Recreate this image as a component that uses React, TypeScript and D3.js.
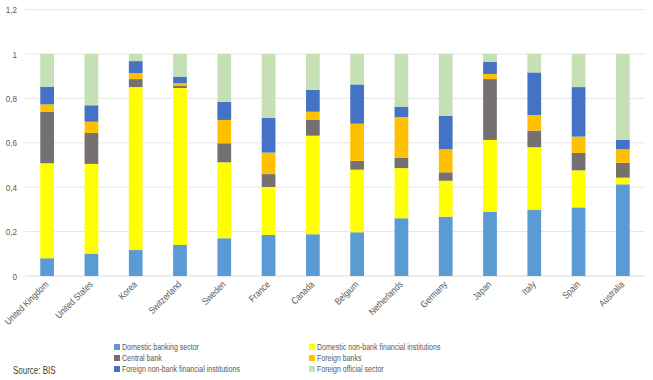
import React from "react";
import * as d3 from "d3";

const categories = ["United Kingdom","United States","Korea","Switzerland","Sweden","France","Canada","Belgium","Netherlands","Germany","Japan","Italy","Spain","Australia"];
const seriesNames = ["Domestic banking sector","Domestic non-bank financial institutions","Central bank","Foreign banks","Foreign non-bank financial institutions","Foreign official sector"];
const seriesColors = ["#5B9BD5","#FFFF00","#767171","#FFC000","#4472C4","#C5E0B4"];
const domesticBanking = [0.08,0.101,0.117,0.14,0.17,0.185,0.188,0.197,0.26,0.267,0.29,0.299,0.309,0.413];
const domesticNonBank = [0.428,0.404,0.734,0.707,0.342,0.216,0.444,0.282,0.226,0.162,0.323,0.281,0.167,0.03];
const centralBank = [0.231,0.139,0.036,0.009,0.086,0.058,0.071,0.04,0.047,0.038,0.274,0.075,0.078,0.067];
const foreignBanks = [0.034,0.051,0.027,0.012,0.105,0.097,0.037,0.167,0.183,0.104,0.023,0.07,0.074,0.061];
const foreignNonBank = [0.08,0.074,0.054,0.03,0.081,0.156,0.098,0.177,0.047,0.151,0.054,0.192,0.223,0.042];
const foreignOfficial = [0.147,0.231,0.032,0.102,0.216,0.288,0.162,0.137,0.237,0.278,0.036,0.083,0.149,0.387];
const yTicks = [0,0.2,0.4,0.6,0.8,1,1.2];

export default function App() {
  const W = 653, H = 380;
  const x = d3.scaleBand().domain(categories).range([25, 645]).paddingInner(0.69).paddingOuter(0.345);
  const y = d3.scaleLinear().domain([0, 1.2]).range([276, 9.6]);
  const seriesData = [domesticBanking, domesticNonBank, centralBank, foreignBanks, foreignNonBank, foreignOfficial];
  const rows = categories.map((c, i) => {
    const o: any = { cat: c };
    seriesNames.forEach((s, k) => (o[s] = seriesData[k][i]));
    return o;
  });
  const stack = d3.stack<any>().keys(seriesNames)(rows);
  const fmt = (v: number) => (v === 0 || v === 1 ? String(v) : v.toFixed(1).replace(".", ","));
  const legendPos = [
    [114, 347], [309, 347], [114, 358], [309, 358], [114, 369], [309, 369],
  ];
  const font = "'Liberation Sans', Arial, sans-serif";
  return (
    <svg width={W} height={H} style={{ position: "absolute", left: 0, top: 0, fontFamily: font }}>
      <rect width={W} height={H} fill="#fff" />
      {yTicks.map((t) => (
        <g key={t}>
          <line x1={25} x2={645} y1={y(t)} y2={y(t)} stroke={t === 0 ? "#d9d9d9" : "#e6e6e6"} strokeWidth={1} />
          <text transform={`translate(17,${y(t) + 3.5}) scale(0.85,1)`} textAnchor="end" fontSize={9.5} fill="#595959">{fmt(t)}</text>
        </g>
      ))}
      {stack.map((s, k) => (
        <g key={k} fill={seriesColors[k]}>
          {s.map((d, i) => (
            <rect key={i} x={x(categories[i])} width={x.bandwidth()} y={y(d[1])} height={y(d[0]) - y(d[1])} />
          ))}
        </g>
      ))}
      {categories.map((c) => {
        const cx = (x(c) as number) + x.bandwidth() / 2;
        return (
          <text key={c} transform={`translate(${cx + 2},${285}) rotate(-45) scale(0.85,1)`} textAnchor="end" fontSize={9.5} fill="#595959">{c}</text>
        );
      })}
      {seriesNames.map((s, k) => (
        <g key={s}>
          <rect x={legendPos[k][0]} y={legendPos[k][1] - 3} width={6} height={6} fill={seriesColors[k]} />
          <text transform={`translate(${legendPos[k][0] + 8},${legendPos[k][1] + 3.2}) scale(0.8,1)`} fontSize={8.8} fill="#595959">{s}</text>
        </g>
      ))}
      <text transform="translate(13,374) scale(0.76,1)" fontSize={10.5} fill="#404040">Source: BIS</text>
    </svg>
  );
}
